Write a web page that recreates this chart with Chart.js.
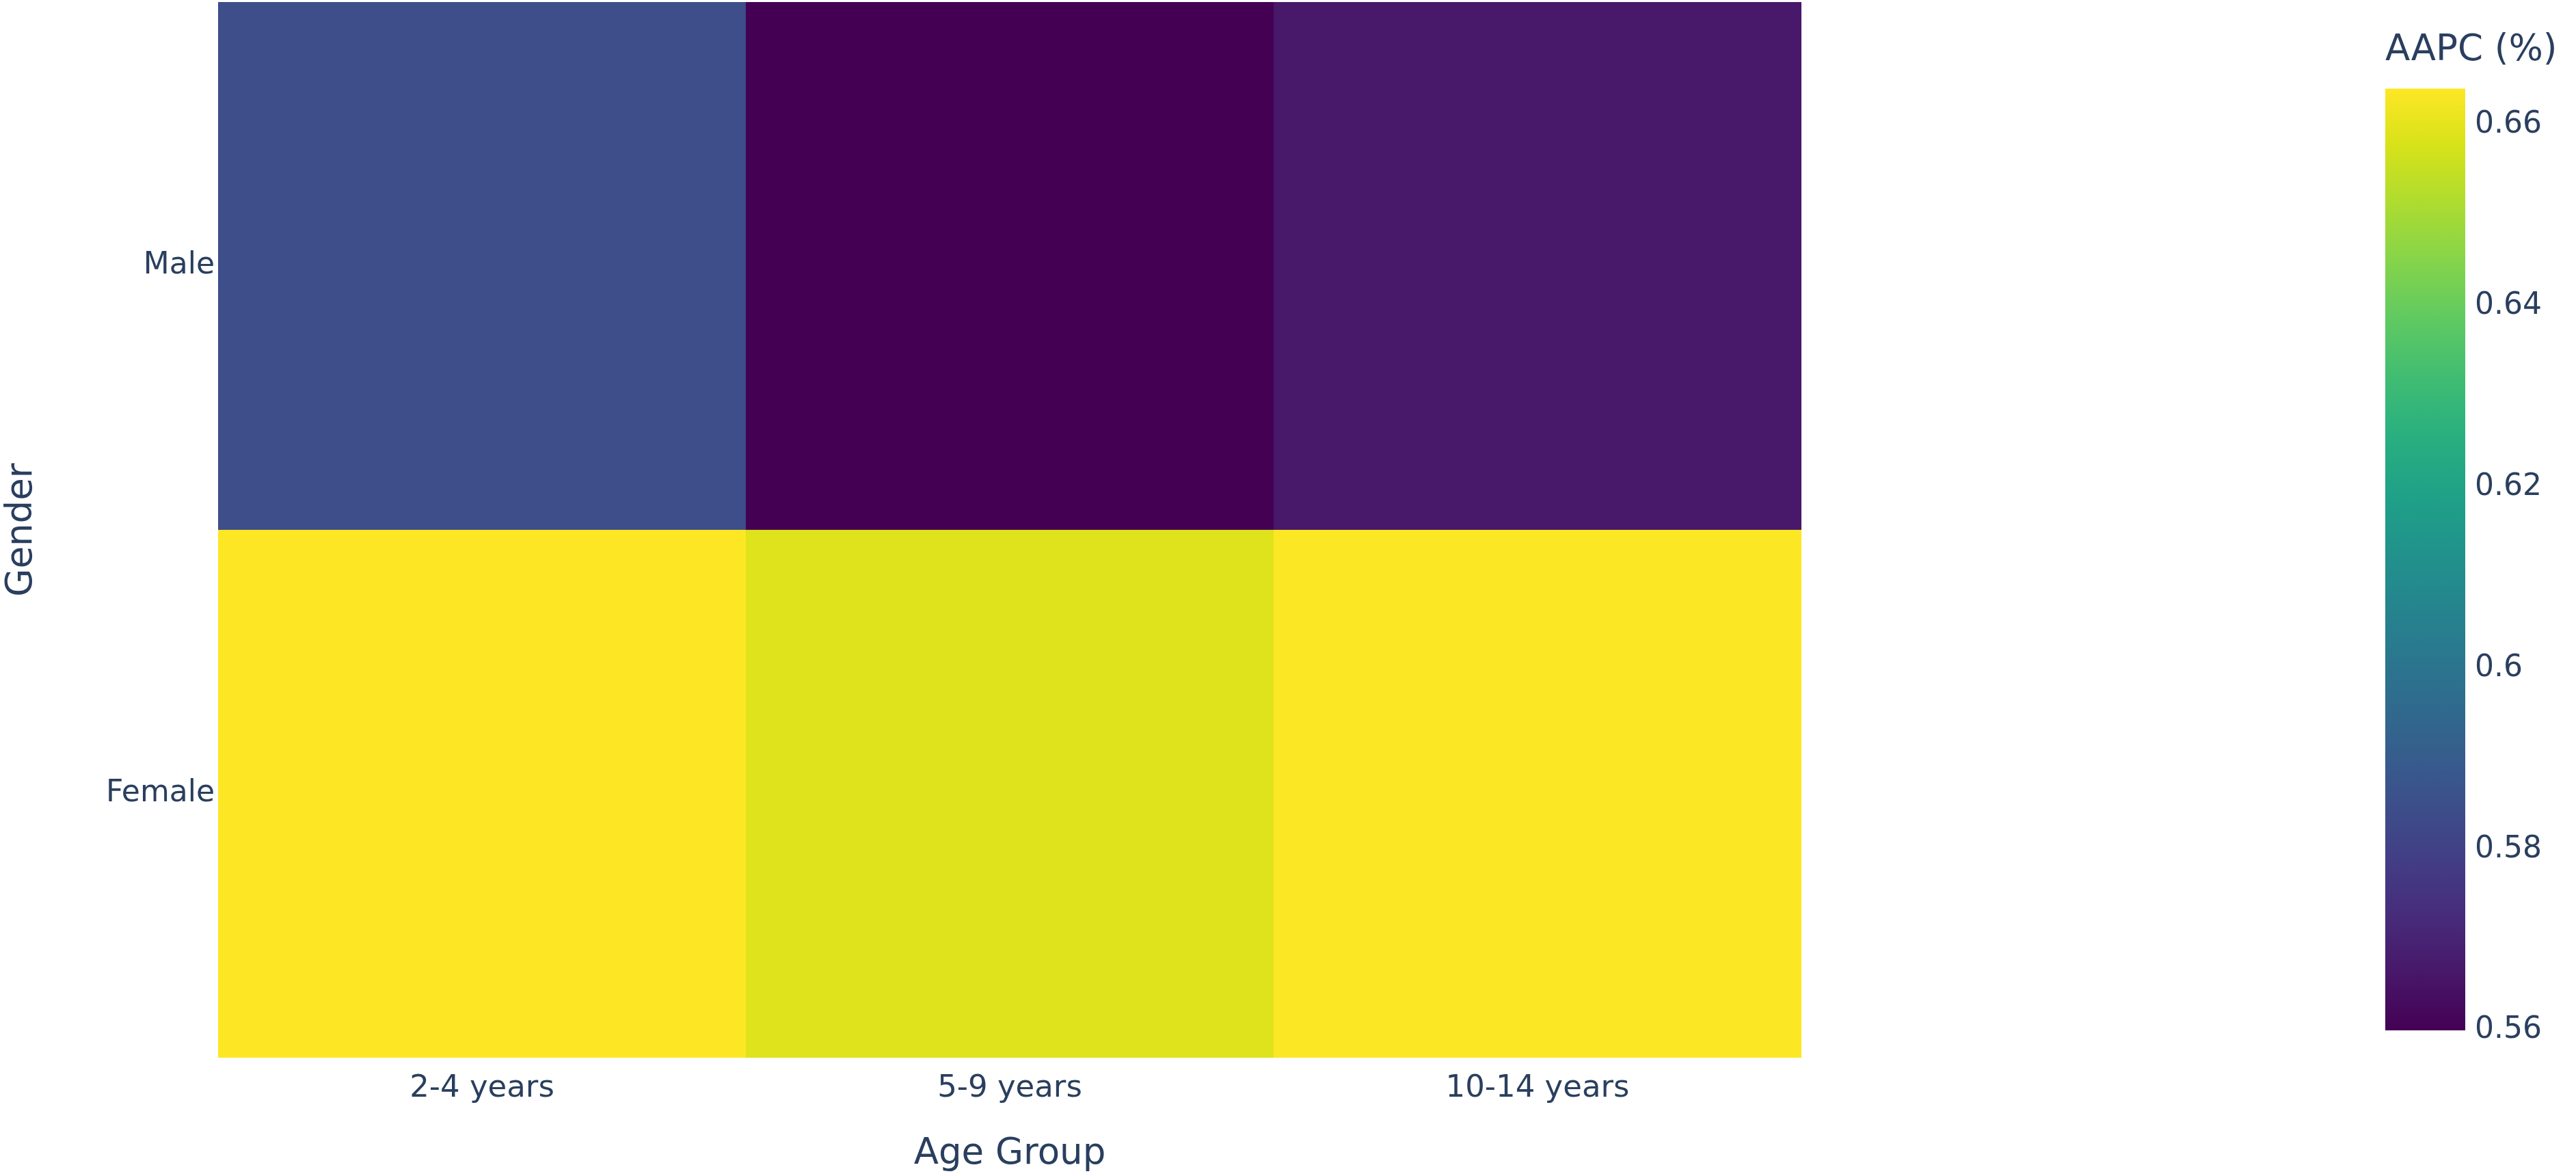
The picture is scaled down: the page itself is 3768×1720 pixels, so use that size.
<!DOCTYPE html>
<html>
<head>
<meta charset="utf-8">
<script src="https://cdn.jsdelivr.net/npm/chart.js@4.4.1/dist/chart.umd.min.js"></script>
<style>
  html, body { margin: 0; padding: 0; background: #ffffff; }
  #main { position: absolute; left: 0; top: 0; width: 3768px; height: 1720px; }
  #cbar { position: absolute; left: 3400px; top: 0; width: 368px; height: 1720px; }
</style>
</head>
<body>
<div id="main"><canvas id="heat"></canvas></div>
<div id="cbar"><canvas id="scale"></canvas></div>
<script>
// ---- data ----
const ageGroups = ['2-4 years', '5-9 years', '10-14 years'];
const genders = ['Male', 'Female'];          // top row, bottom row
const maleAAPC = [0.5845, 0.5600, 0.5665];
const femaleAAPC = [0.6640, 0.6588, 0.6638];
const zMin = 0.560;
const zMax = 0.664;
const colorbarTicks = [0.56, 0.58, 0.60, 0.62, 0.64, 0.66];
const colorbarTitle = 'AAPC (%)';
const xTitle = 'Age Group';
const yTitle = 'Gender';

// ---- style ----
const TEXT = '#2a3f5f';
const FONT = "'DejaVu Sans', Verdana, sans-serif";
const viridis = [
  [0, '#440154'], [0.06274509803921569, '#48186a'], [0.12549019607843137, '#472d7b'],
  [0.18823529411764706, '#424086'], [0.25098039215686274, '#3b528b'], [0.3137254901960784, '#33638d'],
  [0.3764705882352941, '#2c728e'], [0.4392156862745098, '#26828e'], [0.5019607843137255, '#21918c'],
  [0.5647058823529412, '#1fa088'], [0.6274509803921569, '#28ae80'], [0.6901960784313725, '#3fbc73'],
  [0.7529411764705882, '#5ec962'], [0.8156862745098039, '#84d44b'], [0.8784313725490196, '#addc30'],
  [0.9411764705882353, '#d8e219'], [1, '#fde725']
];
function hex2rgb(h) { return [parseInt(h.substr(1,2),16), parseInt(h.substr(3,2),16), parseInt(h.substr(5,2),16)]; }
function colorFor(v) {
  let t = (v - zMin) / (zMax - zMin);
  t = Math.max(0, Math.min(1, t));
  for (let i = 1; i < viridis.length; i++) {
    if (t <= viridis[i][0]) {
      const [t0, c0] = viridis[i-1], [t1, c1] = viridis[i];
      const f = (t - t0) / (t1 - t0);
      const a = hex2rgb(c0), b = hex2rgb(c1);
      const r = a.map((x, k) => Math.round(x + (b[k] - x) * f));
      return 'rgb(' + r.join(',') + ')';
    }
  }
  return viridis[viridis.length-1][1];
}

Chart.defaults.font.family = FONT;
Chart.defaults.color = TEXT;
Chart.defaults.animation = false;

// ---- heatmap (stacked full-width bars, one unit per row) ----
const rowTicks = [1.5, 0.5]; // Male on top, Female below
new Chart(document.getElementById('heat'), {
  type: 'bar',
  data: {
    labels: ageGroups,
    datasets: [
      { label: 'Female', data: femaleAAPC.map(() => 1), aapc: femaleAAPC,
        backgroundColor: femaleAAPC.map(colorFor), borderColor: femaleAAPC.map(colorFor), borderWidth: 1,
        borderSkipped: false, categoryPercentage: 1, barPercentage: 1 },
      { label: 'Male', data: maleAAPC.map(() => 1), aapc: maleAAPC,
        backgroundColor: maleAAPC.map(colorFor), borderColor: maleAAPC.map(colorFor), borderWidth: 1,
        borderSkipped: false, categoryPercentage: 1, barPercentage: 1 }
    ]
  },
  options: {
    responsive: true,
    maintainAspectRatio: false,
    layout: { padding: { top: 3, right: 1133, left: 0, bottom: 0 } },
    plugins: { legend: { display: false }, tooltip: { enabled: false } },
    scales: {
      x: {
        stacked: true,
        grid: { display: false, drawTicks: false },
        border: { display: false },
        ticks: { font: { size: 45 }, color: TEXT, padding: 18, maxRotation: 0 },
        title: { display: true, text: xTitle, font: { size: 53 }, color: TEXT, padding: { top: 0, bottom: 0 } },
        afterFit: (s) => { s.height = 173; s.paddingLeft = 0; s.paddingRight = 0; }
      },
      y: {
        stacked: true,
        min: 0, max: 2,
        grid: { display: false, drawTicks: false },
        border: { display: false },
        afterBuildTicks: (s) => { s.ticks = rowTicks.map(v => ({ value: v })); },
        ticks: {
          font: { size: 44 }, color: TEXT, padding: 5,
          callback: (v) => genders[rowTicks.indexOf(v)]
        },
        title: { display: true, text: yTitle, font: { size: 53 }, color: TEXT, padding: { top: 0, bottom: 0 } },
        afterFit: (s) => { s.width = 319; s.paddingTop = 0; s.paddingBottom = 0; }
      }
    }
  }
});

// ---- colour bar ----
new Chart(document.getElementById('scale'), {
  type: 'bar',
  data: {
    labels: [''],
    datasets: [{
      data: [[zMin, zMax]],
      categoryPercentage: 1, barPercentage: 1, borderWidth: 0,
      backgroundColor: (ctx) => {
        const chart = ctx.chart;
        const area = chart.chartArea;
        if (!area) return viridis[0][1];
        const ys = chart.scales.y;
        const g = chart.ctx.createLinearGradient(0, ys.getPixelForValue(zMin), 0, ys.getPixelForValue(zMax));
        viridis.forEach(([t, c]) => g.addColorStop(t, c));
        return g;
      }
    }]
  },
  options: {
    responsive: true,
    maintainAspectRatio: false,
    layout: { padding: { top: 0, left: 89, right: 0, bottom: 213 } },
    plugins: {
      legend: { display: false }, tooltip: { enabled: false },
      title: { display: true, text: colorbarTitle, align: 'start', color: TEXT,
               font: { size: 53, weight: 'normal' }, padding: { top: 42, bottom: 24 } }
    },
    scales: {
      x: { display: false },
      y: {
        position: 'right',
        min: zMin, max: zMax,
        grid: { display: false, drawTicks: false },
        border: { display: false },
        afterBuildTicks: (s) => { s.ticks = colorbarTicks.map(v => ({ value: v })); },
        ticks: { font: { size: 44 }, color: TEXT, padding: 14,
                 callback: (v) => String(parseFloat(Number(v).toFixed(2))) },
        afterFit: (s) => { s.width = 162; s.paddingTop = 0; s.paddingBottom = 0; }
      }
    }
  }
});
</script>
</body>
</html>
